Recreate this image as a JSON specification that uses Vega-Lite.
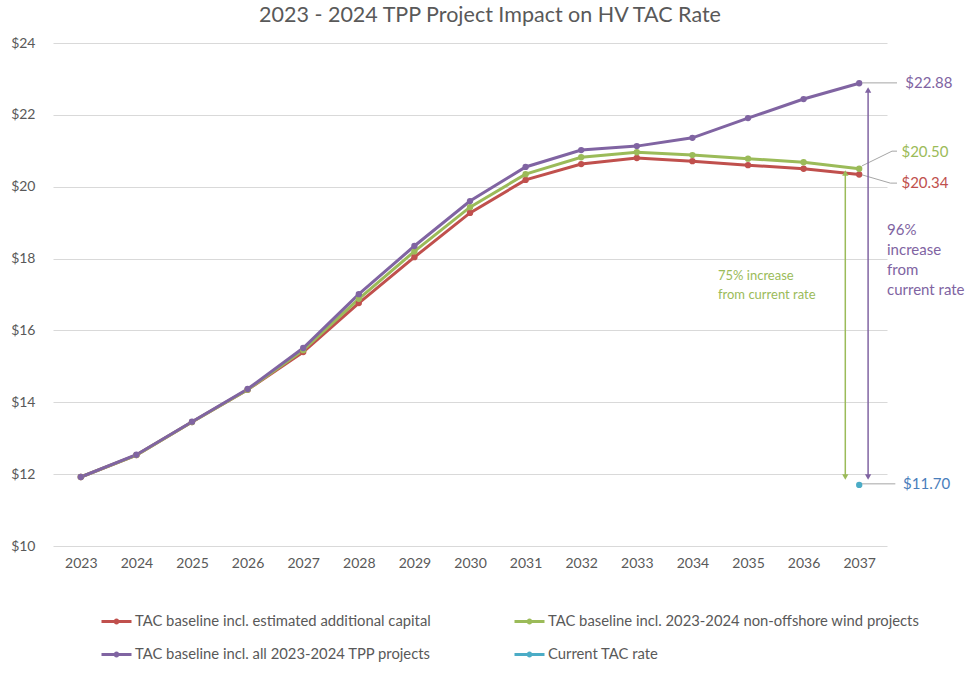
{
  "$schema": "https://vega.github.io/schema/vega-lite/v6.json",
  "autosize": "none",
  "width": 834,
  "height": 503,
  "padding": {"left": 53, "top": 43, "right": 88, "bottom": 146},
  "background": "white",
  "config": {
    "font": "Lato",
    "view": {"stroke": null},
    "axis": {"labelColor": "#595959", "labelFont": "Lato", "labelFontSize": 14, "ticks": false, "domain": false}
  },
  "title": {"text": "2023 - 2024 TPP Project Impact on HV TAC Rate", "fontSize": 21.5, "font": "Lato", "fontWeight": "normal", "color": "#595959", "anchor": "middle", "dx": 20, "offset": 10},
  "datasets": {
    "series": [
      {"year": 2023, "series": "TAC baseline incl. estimated additional capital", "value": 11.92},
      {"year": 2024, "series": "TAC baseline incl. estimated additional capital", "value": 12.53},
      {"year": 2025, "series": "TAC baseline incl. estimated additional capital", "value": 13.45},
      {"year": 2026, "series": "TAC baseline incl. estimated additional capital", "value": 14.35},
      {"year": 2027, "series": "TAC baseline incl. estimated additional capital", "value": 15.40},
      {"year": 2028, "series": "TAC baseline incl. estimated additional capital", "value": 16.76},
      {"year": 2029, "series": "TAC baseline incl. estimated additional capital", "value": 18.04},
      {"year": 2030, "series": "TAC baseline incl. estimated additional capital", "value": 19.27},
      {"year": 2031, "series": "TAC baseline incl. estimated additional capital", "value": 20.19},
      {"year": 2032, "series": "TAC baseline incl. estimated additional capital", "value": 20.63},
      {"year": 2033, "series": "TAC baseline incl. estimated additional capital", "value": 20.80},
      {"year": 2034, "series": "TAC baseline incl. estimated additional capital", "value": 20.71},
      {"year": 2035, "series": "TAC baseline incl. estimated additional capital", "value": 20.60},
      {"year": 2036, "series": "TAC baseline incl. estimated additional capital", "value": 20.50},
      {"year": 2037, "series": "TAC baseline incl. estimated additional capital", "value": 20.34},
      {"year": 2023, "series": "TAC baseline incl. 2023-2024 non-offshore wind projects", "value": 11.92},
      {"year": 2024, "series": "TAC baseline incl. 2023-2024 non-offshore wind projects", "value": 12.53},
      {"year": 2025, "series": "TAC baseline incl. 2023-2024 non-offshore wind projects", "value": 13.45},
      {"year": 2026, "series": "TAC baseline incl. 2023-2024 non-offshore wind projects", "value": 14.35},
      {"year": 2027, "series": "TAC baseline incl. 2023-2024 non-offshore wind projects", "value": 15.45},
      {"year": 2028, "series": "TAC baseline incl. 2023-2024 non-offshore wind projects", "value": 16.88},
      {"year": 2029, "series": "TAC baseline incl. 2023-2024 non-offshore wind projects", "value": 18.20},
      {"year": 2030, "series": "TAC baseline incl. 2023-2024 non-offshore wind projects", "value": 19.43},
      {"year": 2031, "series": "TAC baseline incl. 2023-2024 non-offshore wind projects", "value": 20.35},
      {"year": 2032, "series": "TAC baseline incl. 2023-2024 non-offshore wind projects", "value": 20.82},
      {"year": 2033, "series": "TAC baseline incl. 2023-2024 non-offshore wind projects", "value": 20.96},
      {"year": 2034, "series": "TAC baseline incl. 2023-2024 non-offshore wind projects", "value": 20.88},
      {"year": 2035, "series": "TAC baseline incl. 2023-2024 non-offshore wind projects", "value": 20.78},
      {"year": 2036, "series": "TAC baseline incl. 2023-2024 non-offshore wind projects", "value": 20.68},
      {"year": 2037, "series": "TAC baseline incl. 2023-2024 non-offshore wind projects", "value": 20.50},
      {"year": 2023, "series": "TAC baseline incl. all 2023-2024 TPP projects", "value": 11.92},
      {"year": 2024, "series": "TAC baseline incl. all 2023-2024 TPP projects", "value": 12.54},
      {"year": 2025, "series": "TAC baseline incl. all 2023-2024 TPP projects", "value": 13.46},
      {"year": 2026, "series": "TAC baseline incl. all 2023-2024 TPP projects", "value": 14.37},
      {"year": 2027, "series": "TAC baseline incl. all 2023-2024 TPP projects", "value": 15.51},
      {"year": 2028, "series": "TAC baseline incl. all 2023-2024 TPP projects", "value": 17.01},
      {"year": 2029, "series": "TAC baseline incl. all 2023-2024 TPP projects", "value": 18.35},
      {"year": 2030, "series": "TAC baseline incl. all 2023-2024 TPP projects", "value": 19.60},
      {"year": 2031, "series": "TAC baseline incl. all 2023-2024 TPP projects", "value": 20.55},
      {"year": 2032, "series": "TAC baseline incl. all 2023-2024 TPP projects", "value": 21.02},
      {"year": 2033, "series": "TAC baseline incl. all 2023-2024 TPP projects", "value": 21.13},
      {"year": 2034, "series": "TAC baseline incl. all 2023-2024 TPP projects", "value": 21.36},
      {"year": 2035, "series": "TAC baseline incl. all 2023-2024 TPP projects", "value": 21.91},
      {"year": 2036, "series": "TAC baseline incl. all 2023-2024 TPP projects", "value": 22.44},
      {"year": 2037, "series": "TAC baseline incl. all 2023-2024 TPP projects", "value": 22.88},
      {"year": 2037, "series": "Current TAC rate", "value": 11.70}
    ],
    "leaders": [
      {"leader": "purple", "step": 1, "x": 2037.05, "y": 22.89},
      {"leader": "purple", "step": 2, "x": 2037.68, "y": 22.89},
      {"leader": "green", "step": 1, "x": 2037.05, "y": 20.58},
      {"leader": "green", "step": 2, "x": 2037.59, "y": 20.99},
      {"leader": "green", "step": 3, "x": 2037.68, "y": 20.99},
      {"leader": "red", "step": 1, "x": 2037.05, "y": 20.33},
      {"leader": "red", "step": 2, "x": 2037.56, "y": 20.10},
      {"leader": "red", "step": 3, "x": 2037.68, "y": 20.10},
      {"leader": "blue", "step": 1, "x": 2037.05, "y": 11.73},
      {"leader": "blue", "step": 2, "x": 2037.65, "y": 11.73}
    ],
    "labels": [
      {"who": "purple", "x": 2037.83, "y": 22.89, "text": "$22.88"},
      {"who": "green", "x": 2037.76, "y": 20.97, "text": "$20.50"},
      {"who": "red", "x": 2037.76, "y": 20.10, "text": "$20.34"},
      {"who": "blue", "x": 2037.79, "y": 11.73, "text": "$11.70"}
    ],
    "arrows": [
      {"who": "green", "x": 2036.75, "top": 20.38, "bottom": 11.92},
      {"who": "purple", "x": 2037.16, "top": 22.69, "bottom": 11.92}
    ],
    "notes": [
      {"who": "purple", "x": 2037.5, "y": 19.0, "text": "96%\nincrease\nfrom\ncurrent rate"},
      {"who": "green", "x": 2034.46, "y": 17.68, "text": "75% increase\nfrom current rate"}
    ]
  },
  "layer": [
    {
      "data": {"name": "series"},
      "mark": {"type": "line", "strokeWidth": 3, "point": {"filled": true, "size": 40}, "clip": false},
      "encoding": {
        "x": {"field": "year", "type": "quantitative", "scale": {"domain": [2022.5, 2037.5], "nice": false, "zero": false},
          "axis": {"title": null, "values": [2023,2024,2025,2026,2027,2028,2029,2030,2031,2032,2033,2034,2035,2036,2037], "format": "d", "grid": false, "labelPadding": 10}},
        "y": {"field": "value", "type": "quantitative", "scale": {"domain": [10, 24], "nice": false, "zero": false},
          "axis": {"title": null, "values": [10,12,14,16,18,20,22,24], "labelExpr": "'$' + datum.value", "grid": true, "gridColor": "#D9D9D9", "gridWidth": 1, "labelPadding": 18}},
        "color": {"field": "series", "type": "nominal",
          "scale": {"domain": ["TAC baseline incl. estimated additional capital", "TAC baseline incl. all 2023-2024 TPP projects", "TAC baseline incl. 2023-2024 non-offshore wind projects", "Current TAC rate"],
                    "range": ["#C0504D", "#8064A2", "#9BBB59", "#4BACC6"]},
          "legend": {"title": null, "orient": "none", "legendX": 47, "legendY": 562, "columns": 2, "columnPadding": 77, "rowPadding": 9,
            "labelFont": "Lato", "labelFontSize": 14.8, "labelColor": "#595959", "labelLimit": 450, "labelOffset": 2,
            "symbolType": "M-1,0H1M-0.1,0A0.1,0.1 0 1,0 0.1,0A0.1,0.1 0 1,0 -0.1,0", "symbolSize": 900, "symbolStrokeWidth": 3}},
        "order": {"field": "year"}
      }
    },
    {
      "data": {"name": "leaders"},
      "mark": {"type": "line", "stroke": "#A6A6A6", "strokeWidth": 1, "clip": false},
      "encoding": {
        "x": {"field": "x", "type": "quantitative"},
        "y": {"field": "y", "type": "quantitative"},
        "detail": {"field": "leader"},
        "order": {"field": "step"}
      }
    },
    {
      "data": {"name": "arrows"},
      "transform": [{"filter": "datum.who == 'green'"}],
      "layer": [
        {"mark": {"type": "rule", "stroke": "#9BBB59", "strokeWidth": 1.5, "clip": false},
         "encoding": {"x": {"field": "x", "type": "quantitative"}, "y": {"field": "top", "type": "quantitative"}, "y2": {"field": "bottom"}}},
        {"mark": {"type": "point", "shape": "triangle-up", "filled": true, "size": 40, "color": "#9BBB59", "opacity": 1, "clip": false},
         "encoding": {"x": {"field": "x", "type": "quantitative"}, "y": {"field": "top", "type": "quantitative"}}},
        {"mark": {"type": "point", "shape": "triangle-down", "filled": true, "size": 40, "color": "#9BBB59", "opacity": 1, "clip": false},
         "encoding": {"x": {"field": "x", "type": "quantitative"}, "y": {"field": "bottom", "type": "quantitative"}}}
      ]
    },
    {
      "data": {"name": "arrows"},
      "transform": [{"filter": "datum.who == 'purple'"}],
      "layer": [
        {"mark": {"type": "rule", "stroke": "#8064A2", "strokeWidth": 1.5, "clip": false},
         "encoding": {"x": {"field": "x", "type": "quantitative"}, "y": {"field": "top", "type": "quantitative"}, "y2": {"field": "bottom"}}},
        {"mark": {"type": "point", "shape": "triangle-up", "filled": true, "size": 40, "color": "#8064A2", "opacity": 1, "clip": false},
         "encoding": {"x": {"field": "x", "type": "quantitative"}, "y": {"field": "top", "type": "quantitative"}}},
        {"mark": {"type": "point", "shape": "triangle-down", "filled": true, "size": 40, "color": "#8064A2", "opacity": 1, "clip": false},
         "encoding": {"x": {"field": "x", "type": "quantitative"}, "y": {"field": "bottom", "type": "quantitative"}}}
      ]
    },
    {
      "data": {"name": "labels"},
      "transform": [{"filter": "datum.who == 'purple'"}],
      "mark": {"type": "text", "align": "left", "baseline": "middle", "fontSize": 15, "color": "#8064A2", "clip": false},
      "encoding": {"x": {"field": "x", "type": "quantitative"}, "y": {"field": "y", "type": "quantitative"}, "text": {"field": "text"}}
    },
    {
      "data": {"name": "labels"},
      "transform": [{"filter": "datum.who == 'green'"}],
      "mark": {"type": "text", "align": "left", "baseline": "middle", "fontSize": 15, "color": "#9BBB59", "clip": false},
      "encoding": {"x": {"field": "x", "type": "quantitative"}, "y": {"field": "y", "type": "quantitative"}, "text": {"field": "text"}}
    },
    {
      "data": {"name": "labels"},
      "transform": [{"filter": "datum.who == 'red'"}],
      "mark": {"type": "text", "align": "left", "baseline": "middle", "fontSize": 15, "color": "#C0504D", "clip": false},
      "encoding": {"x": {"field": "x", "type": "quantitative"}, "y": {"field": "y", "type": "quantitative"}, "text": {"field": "text"}}
    },
    {
      "data": {"name": "labels"},
      "transform": [{"filter": "datum.who == 'blue'"}],
      "mark": {"type": "text", "align": "left", "baseline": "middle", "fontSize": 15, "color": "#4A7EBB", "clip": false},
      "encoding": {"x": {"field": "x", "type": "quantitative"}, "y": {"field": "y", "type": "quantitative"}, "text": {"field": "text"}}
    },
    {
      "data": {"name": "notes"},
      "transform": [{"filter": "datum.who == 'purple'"}],
      "mark": {"type": "text", "align": "left", "baseline": "top", "fontSize": 15, "lineHeight": 20, "lineBreak": "\n", "color": "#8064A2", "clip": false},
      "encoding": {"x": {"field": "x", "type": "quantitative"}, "y": {"field": "y", "type": "quantitative"}, "text": {"field": "text"}}
    },
    {
      "data": {"name": "notes"},
      "transform": [{"filter": "datum.who == 'green'"}],
      "mark": {"type": "text", "align": "left", "baseline": "top", "fontSize": 13, "lineHeight": 19, "lineBreak": "\n", "color": "#9BBB59", "clip": false},
      "encoding": {"x": {"field": "x", "type": "quantitative"}, "y": {"field": "y", "type": "quantitative"}, "text": {"field": "text"}}
    }
  ]
}
